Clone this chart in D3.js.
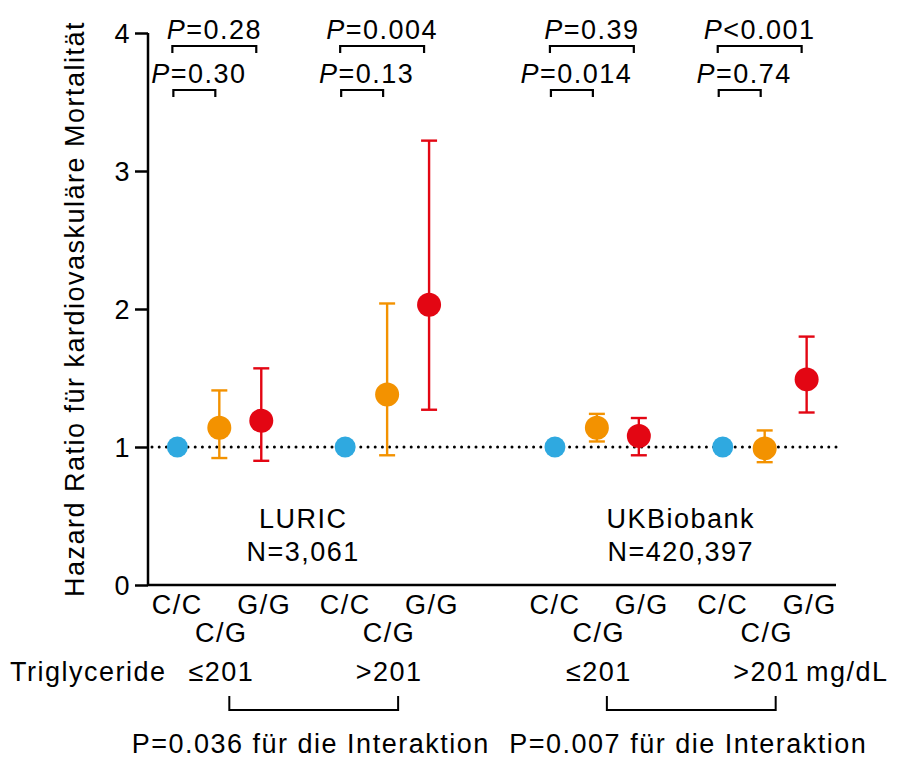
<!DOCTYPE html>
<html>
<head>
<meta charset="utf-8">
<script src="https://cdn.jsdelivr.net/npm/d3@7"></script>
<style>
  html, body { margin: 0; padding: 0; background: #fff; }
  svg text { font-family: "Liberation Sans", Arial, Helvetica, sans-serif; fill: #000; letter-spacing: 1.5px; }
</style>
</head>
<body>
<svg id="chart" width="898" height="758"></svg>
<script>
// Hazard ratios for cardiovascular mortality by genotype and triglyceride stratum
const studies = ["LURIC", "UKBiobank"];
const studyN = ["N=3,061", "N=420,397"];
const strata = ["≤201", ">201"];
const genotypes = ["C/C", "C/G", "G/G"];
// rows: LURIC ≤201, LURIC >201, UKBiobank ≤201, UKBiobank >201
const hr     = [[1.00, 1.14, 1.19], [1.00, 1.38, 2.03], [1.00, 1.14, 1.08], [1.00, 0.99, 1.49]];
const ciLow  = [[null, 0.92, 0.90], [null, 0.94, 1.27], [null, 1.04, 0.94], [null, 0.89, 1.25]];
const ciHigh = [[null, 1.41, 1.57], [null, 2.04, 3.22], [null, 1.24, 1.21], [null, 1.12, 1.80]];
const pGG = ["0.28", "0.004", "0.39", "<0.001"];   // C/C vs G/G
const pCG = ["0.30", "0.13", "0.014", "0.74"];     // C/C vs C/G
const pInteraction = ["P=0.036 für die Interaktion", "P=0.007 für die Interaktion"];
const yTicks = [0, 1, 2, 3, 4];
const yTitle = "Hazard Ratio für kardiovaskuläre Mortalität";
const stratumTitle = "Triglyceride";
const unit = "mg/dL";

const colors = ["#2fa9e0", "#f39200", "#e30613"];
const radii = [10.5, 12, 12];
const FS = 27;

const svg = d3.select("#chart");
const plotLeft = 148, plotRight = 836, plotBottom = 585, plotTop = 33;

// slot positions along x: strata of one study are adjacent, studies separated by a wider gap
const slotOf = (row, g) => Math.floor(row / 2) * 9 + (row % 2) * 4 + g;
const x = d3.scaleLinear().domain([-0.7, 15.7]).range([plotLeft, plotRight]);
const y = d3.scaleLinear().domain([0, 4]).range([plotBottom, plotTop]);

// y axis
const yAxis = d3.axisLeft(y).tickValues(yTicks).tickFormat(d3.format("d")).tickSize(13).tickPadding(4);
const gy = svg.append("g").attr("transform", `translate(${plotLeft},0)`).call(yAxis);
gy.select(".domain").attr("stroke", "#000").attr("stroke-width", 2.5).attr("d", `M0,${plotTop}V${plotBottom}`);
gy.selectAll(".tick line").attr("stroke", "#000").attr("stroke-width", 2.5);
gy.selectAll(".tick text").attr("font-size", FS).attr("dy", "0.36em")
  .style("font-family", "'Liberation Sans', Arial, sans-serif");

// x axis baseline
svg.append("line").attr("x1", plotLeft).attr("x2", plotRight).attr("y1", y(0)).attr("y2", y(0))
  .attr("stroke", "#000").attr("stroke-width", 2.5);

// reference line at HR = 1
svg.append("line").attr("x1", plotLeft + 4).attr("x2", plotRight).attr("y1", y(1)).attr("y2", y(1))
  .attr("stroke", "#000").attr("stroke-width", 3).attr("stroke-linecap", "round")
  .attr("stroke-dasharray", "0,7.2");

// y title
svg.append("text")
  .attr("transform", `translate(84,${(plotTop + plotBottom) / 2}) rotate(-90)`)
  .attr("text-anchor", "middle").attr("font-size", FS).text(yTitle);

// markers
const rows = d3.range(hr.length);
rows.forEach(r => {
  genotypes.forEach((gName, g) => {
    const cx = x(slotOf(r, g));
    const col = colors[g];
    if (ciLow[r][g] != null) {
      const eg = svg.append("g").attr("stroke", col).attr("stroke-width", 2.4);
      eg.append("line").attr("x1", cx).attr("x2", cx).attr("y1", y(ciLow[r][g])).attr("y2", y(ciHigh[r][g]));
      [ciLow[r][g], ciHigh[r][g]].forEach(v => {
        eg.append("line").attr("x1", cx - 8).attr("x2", cx + 8).attr("y1", y(v)).attr("y2", y(v));
      });
    }
    svg.append("circle").attr("cx", cx).attr("cy", y(hr[r][g])).attr("r", radii[g]).attr("fill", col);
  });
});

// pairwise P-value brackets above each stratum
function pLabel(cx, baseline, op) {
  const t = svg.append("text").attr("x", cx).attr("y", baseline).attr("text-anchor", "middle").attr("font-size", FS);
  t.append("tspan").attr("font-style", "italic").text("P");
  t.append("tspan").text(op);
}
rows.forEach(r => {
  const x0 = x(slotOf(r, 0)) - 5;
  const x2 = x(slotOf(r, 2)) - 5;
  const x1 = x(slotOf(r, 1)) - 4;
  // C/C vs G/G
  svg.append("path").attr("d", `M${x0},53V46H${x2}V53`).attr("fill", "none").attr("stroke", "#000").attr("stroke-width", 2.2);
  pLabel((x0 + x2) / 2, 39, (pGG[r][0] === "<" ? "" : "=") + pGG[r]);
  // C/C vs C/G
  svg.append("path").attr("d", `M${x0 + 1},97V90H${x1}V97`).attr("fill", "none").attr("stroke", "#000").attr("stroke-width", 2.2);
  pLabel((x0 + x1) / 2 + 5, 83, "=" + pCG[r]);
});

// study labels
studies.forEach((s, i) => {
  const cx = x(i * 9 + 3);
  svg.append("text").attr("x", cx).attr("y", 528).attr("text-anchor", "middle").attr("font-size", FS).text(s);
  svg.append("text").attr("x", cx).attr("y", 561).attr("text-anchor", "middle").attr("font-size", FS).text(studyN[i]);
});

// genotype labels
rows.forEach(r => {
  svg.append("text").attr("x", x(slotOf(r, 0))).attr("y", 614).attr("text-anchor", "middle").attr("font-size", FS).text(genotypes[0]);
  svg.append("text").attr("x", x(slotOf(r, 2)) + 3).attr("y", 614).attr("text-anchor", "middle").attr("font-size", FS).text(genotypes[2]);
  svg.append("text").attr("x", x(slotOf(r, 1)) + 2).attr("y", 642).attr("text-anchor", "middle").attr("font-size", FS).text(genotypes[1]);
});

// triglyceride strata
svg.append("text").attr("x", 10).attr("y", 681).attr("font-size", FS).text(stratumTitle);
rows.forEach(r => {
  const t = svg.append("text").attr("x", x(slotOf(r, 1)) + 2).attr("y", 681).attr("text-anchor", "middle")
    .attr("font-size", FS).text(strata[r % 2]);
  if (r === rows.length - 1) {
    const bb = t.node().getBBox();
    svg.append("text").attr("x", bb.x + bb.width + 6).attr("y", 681).attr("font-size", FS).text(unit);
  }
});

// interaction brackets
studies.forEach((s, i) => {
  const xa = x(slotOf(i * 2, 1)) + 10;
  const xb = x(slotOf(i * 2 + 1, 1)) + 11;
  svg.append("path").attr("d", `M${xa},696V710H${xb}V696`).attr("fill", "none").attr("stroke", "#000").attr("stroke-width", 2);
  svg.append("text").attr("x", (xa + xb) / 2 - 3).attr("y", 753).attr("text-anchor", "middle").attr("font-size", FS).text(pInteraction[i]);
});
</script>
</body>
</html>
